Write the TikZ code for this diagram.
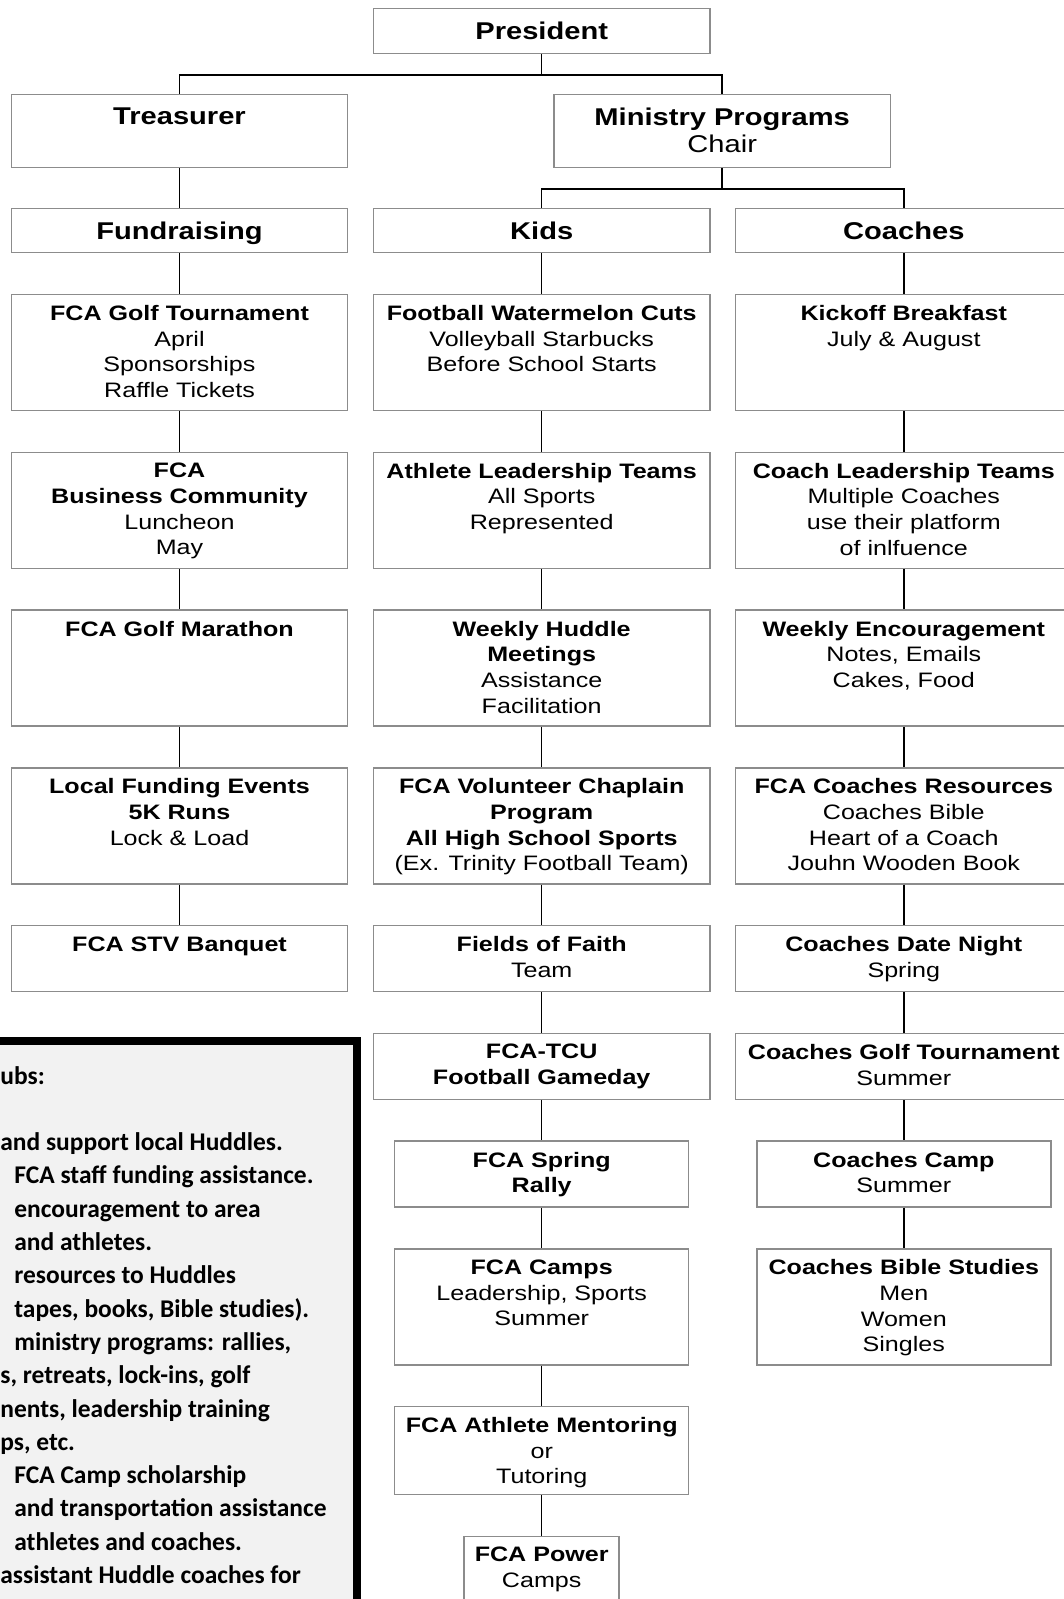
\documentclass[tikz,border=0pt]{standalone}
\usepackage{fontspec}
\usetikzlibrary{positioning}

\newfontfamily\chartfamily{Liberation Sans}[FakeStretch=1.2]
\newfontfamily\notefamily{Carlito}
\definecolor{boxgray}{RGB}{140,140,140}
\definecolor{notegray}{RGB}{242,242,242}

\begin{document}
\begin{tikzpicture}[x=0.02cm, y=-0.02cm,
    % boxes of the chart
    box/.style={draw=boxgray, line width=0.85pt, fill=white, anchor=north,
        inner sep=0pt, minimum width=6.73cm, minimum height=0.88cm},
    narrow/.style={box, minimum width=5.88cm},
    small/.style={box, minimum width=3.10cm},
    tall/.style={minimum height=2.32cm},
    short/.style={minimum height=1.32cm},
    % texts hung from the top edge of a box
    tx/.style={anchor=north, align=center, inner sep=0pt},
    txt/.style={tx, yshift=-0.225cm, font=\chartfamily\fontsize{11.9}{14.6}\selectfont},
    head/.style={tx, yshift=-0.272cm, font=\chartfamily\fontsize{13.8}{15.6}\selectfont},
    wire/.style={line width=0.85pt},
    note/.style={anchor=base west, inner sep=0pt,
        font=\notefamily\bfseries\fontsize{14.5}{18.9}\selectfont},
    node distance=0.806cm
]
\useasboundingbox (0,0) rectangle (1064,1599);
\clip (0,0) rectangle (1064,1599);

% ==================== TOP LEVELS ====================
\node[box, minimum height=0.9cm, label={[head, name=pres-t]north:\textbf{President}}] (pres) at (541.7,8) {};
\node[box, minimum height=1.46cm, label={[head, name=treas-t]north:\textbf{Treasurer}}] (treas) at (179.5,94) {};
\node[box, minimum height=1.46cm, label={[head, name=mp-t]north:{\textbf{Ministry Programs}\\Chair}}] (mp) at (722.2,94) {};
\node[box, label={[head, name=fund-t]north:\textbf{Fundraising}}] (fund) at (179.5,208) {};
\node[box, label={[head, name=kids-t]north:\textbf{Kids}}] (kids) at (541.7,208) {};
\node[box, label={[head, name=coach-t]north:\textbf{Coaches}}] (coach) at (903.8,208) {};

% ==================== FUNDRAISING ====================
\node[box, tall, below=of fund, label={[txt, name=l1-t]north:{\textbf{FCA Golf Tournament}\\April\\Sponsorships\\Raffle Tickets}}] (l1) {};
\node[box, tall, below=of l1, label={[txt, name=l2-t]north:{\textbf{FCA}\\\textbf{Business Community}\\Luncheon\\May}}] (l2) {};
\node[box, tall, below=of l2, label={[txt, name=l3-t]north:\textbf{FCA Golf Marathon}}] (l3) {};
\node[box, tall, below=of l3, label={[txt, name=l4-t]north:{\textbf{Local Funding Events}\\\textbf{5K Runs}\\Lock \& Load}}] (l4) {};
\node[box, short, below=of l4, label={[txt, name=l5-t]north:\textbf{FCA STV Banquet}}] (l5) {};

% ==================== KIDS ====================
\node[box, tall, below=of kids, label={[txt, name=k1-t]north:{\textbf{Football Watermelon Cuts}\\Volleyball Starbucks\\Before School Starts}}] (k1) {};
\node[box, tall, below=of k1, label={[txt, name=k2-t]north:{\textbf{Athlete Leadership Teams}\\All Sports\\Represented}}] (k2) {};
\node[box, tall, below=of k2, label={[txt, name=k3-t]north:{\textbf{Weekly Huddle}\\\textbf{Meetings}\\Assistance\\Facilitation}}] (k3) {};
\node[box, tall, below=of k3, label={[txt, name=k4-t]north:{\textbf{FCA Volunteer Chaplain}\\\textbf{Program}\\\textbf{All High School Sports}\\(Ex. Trinity Football Team)}}] (k4) {};
\node[box, short, below=of k4, label={[txt, name=k5-t]north:{\textbf{Fields of Faith}\\Team}}] (k5) {};
\node[box, short, below=of k5, label={[txt, name=k6-t]north:{\textbf{FCA-TCU}\\\textbf{Football Gameday}}}] (k6) {};
\node[narrow, short, below=of k6, label={[txt, name=k7-t]north:{\textbf{FCA Spring}\\\textbf{Rally}}}] (k7) {};
\node[narrow, tall, below=of k7, label={[txt, name=k8-t]north:{\textbf{FCA Camps}\\Leadership, Sports\\Summer}}] (k8) {};
\node[narrow, minimum height=1.76cm, below=of k8, label={[txt, name=k9-t]north:{\textbf{FCA Athlete Mentoring}\\or\\Tutoring}}] (k9) {};
\node[small, minimum height=1.4cm, below=of k9, label={[txt, name=k10-t]north:{\textbf{FCA Power}\\Camps}}] (k10) {};

% ==================== COACHES ====================
\node[box, tall, below=of coach, label={[txt, name=c1-t]north:{\textbf{Kickoff Breakfast}\\July \& August}}] (c1) {};
\node[box, tall, below=of c1, label={[txt, name=c2-t]north:{\textbf{Coach Leadership Teams}\\Multiple Coaches\\use their platform\\of inlfuence}}] (c2) {};
\node[box, tall, below=of c2, label={[txt, name=c3-t]north:{\textbf{Weekly Encouragement}\\Notes, Emails\\Cakes, Food}}] (c3) {};
\node[box, tall, below=of c3, label={[txt, name=c4-t]north:{\textbf{FCA Coaches Resources}\\Coaches Bible\\Heart of a Coach\\Jouhn Wooden Book}}] (c4) {};
\node[box, short, below=of c4, label={[txt, name=c5-t]north:{\textbf{Coaches Date Night}\\Spring}}] (c5) {};
\node[box, short, below=of c5, label={[txt, name=c6-t]north:{\textbf{Coaches Golf Tournament}\\Summer}}] (c6) {};
\node[narrow, short, below=of c6, label={[txt, name=c7-t]north:{\textbf{Coaches Camp}\\Summer}}] (c7) {};
\node[narrow, tall, below=of c7, label={[txt, name=c8-t]north:{\textbf{Coaches Bible Studies}\\Men\\Women\\Singles}}] (c8) {};

% ==================== CONNECTORS ====================
\draw[wire] (pres.south) -- ++(0,20.4) -| (treas.north);
\draw[wire] (pres.south) -- ++(0,20.4) -| (mp.north);
\draw[wire] (mp.south) -- ++(0,20.7) -| (kids.north);
\draw[wire] (mp.south) -- ++(0,20.7) -| (coach.north);
\foreach \a/\b in {treas/fund, fund/l1, l1/l2, l2/l3, l3/l4, l4/l5,
    kids/k1, k1/k2, k2/k3, k3/k4, k4/k5, k5/k6, k6/k7, k7/k8, k8/k9, k9/k10,
    coach/c1, c1/c2, c2/c3, c3/c4, c4/c5, c5/c6, c6/c7, c7/c8}
    \draw[wire] (\a.south) -- (\b.north);

% ==================== NOTES BOX (cut by the page edge) ====================
\draw[line width=0.16cm, fill=notegray] (-20,1041) rectangle (357,1640);
\foreach \dx/\row/\txt in {0/0/{ubs:}, 0/2/{and support local Huddles.},
    14/3/{FCA staff funding assistance.}, 14/4/{encouragement to area},
    14/5/{and athletes.}, 14/6/{resources to Huddles},
    14/7/{tapes, books, Bible studies).}, 14/8/{ministry programs: rallies,},
    0/9/{s, retreats, lock-ins, golf}, 0/10/{nents, leadership training},
    0/11/{ps, etc.}, 14/12/{FCA Camp scholarship},
    14/13/{and transportation assistance}, 14/14/{athletes and coaches.},
    0/15/{assistant Huddle coaches for}}
    \node[note] (note-\row) at (\dx,1084+\row*33.3) {\txt};

\end{tikzpicture}
\end{document}
